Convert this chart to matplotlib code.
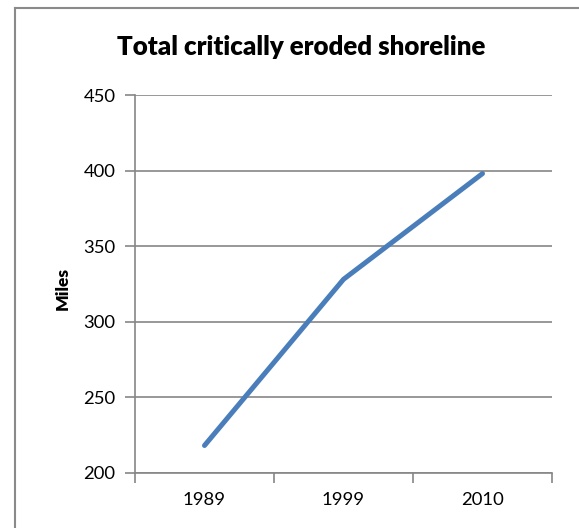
import matplotlib
matplotlib.use("Agg")
import matplotlib.pyplot as plt
from matplotlib.lines import Line2D

years = ["1989", "1999", "2010"]
miles = [218, 328, 398]
y_ticks = [200, 250, 300, 350, 400, 450]

plt.rcParams["font.family"] = ["Lato", "DejaVu Sans"]

GRID = "#868686"
LINE = "#4A7EBB"

fig = plt.figure(figsize=(5.79, 5.28), dpi=100)
ax = fig.add_axes([135 / 579, 1 - 472.7 / 528, 417 / 579, 377.7 / 528])

x = [i + 0.5 for i in range(len(years))]
ax.plot(x, miles, color=LINE, lw=3.6, solid_capstyle="round",
        solid_joinstyle="round", zorder=3)

ax.set_xlim(0, len(years))
ax.set_ylim(y_ticks[0], y_ticks[-1])
ax.set_yticks(y_ticks)
ax.set_yticklabels([str(v) for v in y_ticks], fontsize=13.3)
ax.grid(axis="y", color=GRID, lw=1.2)
ax.set_axisbelow(True)

# category boundaries carry the tick marks, centres carry the labels
ax.set_xticks(range(len(years) + 1))
ax.set_xticklabels([""] * (len(years) + 1))
ax.set_xticks(x, minor=True)
ax.set_xticklabels(years, minor=True, fontsize=13.3)
ax.tick_params(axis="x", which="major", length=7, width=1.2, color=GRID,
               direction="out")
ax.tick_params(axis="x", which="minor", length=0, pad=14)
ax.tick_params(axis="y", length=7, width=1.2, color=GRID, pad=7)

for side in ("top", "right"):
    ax.spines[side].set_visible(False)
for side in ("left", "bottom"):
    ax.spines[side].set_color(GRID)
    ax.spines[side].set_linewidth(1.2)

fig.text(301 / 579, 1 - 47 / 528, "Total critically eroded shoreline",
         ha="center", va="center", fontsize=18.6, fontweight="heavy")
fig.text(62.5 / 579, 1 - 288 / 528, "Miles", rotation=90, ha="center",
         va="center", fontsize=12.5, fontweight="heavy")

# chart frame
fig.add_artist(Line2D([14.5 / 579, 14.5 / 579], [0, 1 - 8 / 528],
                      transform=fig.transFigure, color="#8A8A8A", lw=1.5))
fig.add_artist(Line2D([14.5 / 579, 1], [1 - 8 / 528, 1 - 8 / 528],
                      transform=fig.transFigure, color="#8A8A8A", lw=1.5))

fig.savefig("out.png", dpi=100)
